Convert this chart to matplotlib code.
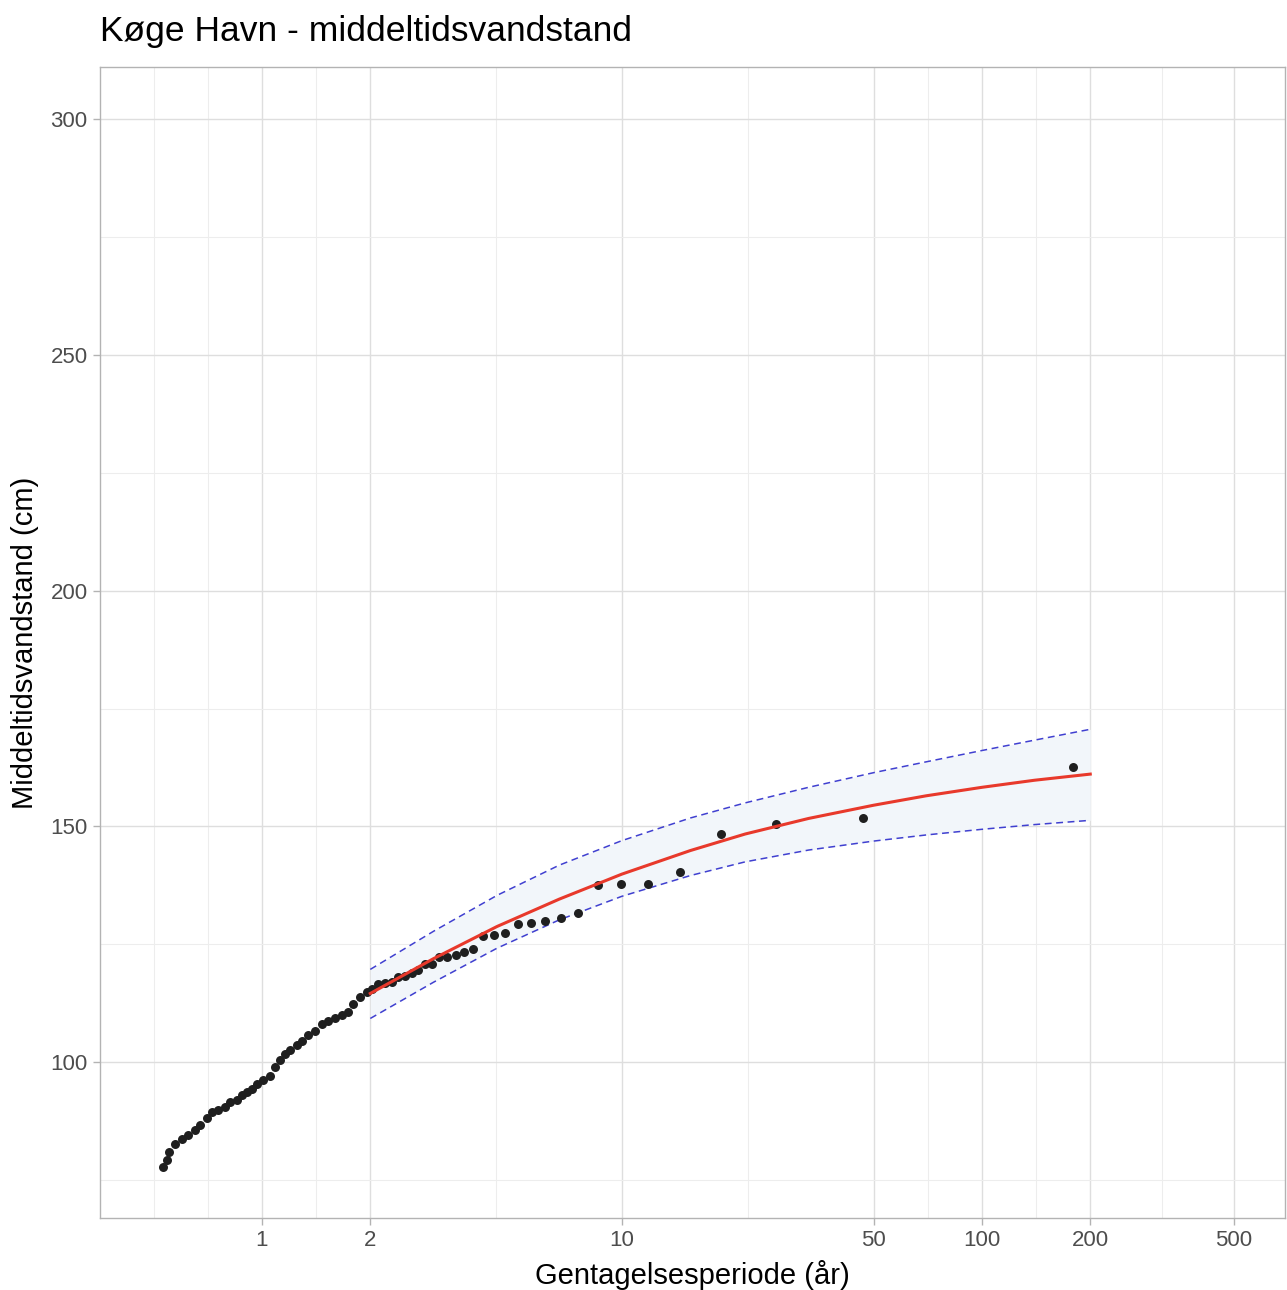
"""
Køge Havn - return period plot for mean water level (middeltidsvandstand).
"""

import matplotlib
matplotlib.use("Agg")
import matplotlib.pyplot as plt
from matplotlib.ticker import FixedLocator, NullFormatter

plt.rcParams['font.family'] = ['Liberation Sans', 'DejaVu Sans']

# -----------------------------------------------------------------------------
# observed events: return period (år) and water level (cm)
obs_T = [0.530, 0.544, 0.553, 0.573, 0.598, 0.624, 0.652, 0.673, 0.702, 0.725,
         0.756, 0.789, 0.815, 0.851, 0.878, 0.907, 0.936, 0.967, 1.008, 1.053,
         1.087, 1.122, 1.158, 1.196, 1.248, 1.289, 1.345, 1.403, 1.465, 1.528,
         1.595, 1.665, 1.736, 1.793, 1.872, 1.954, 2.017, 2.104, 2.197, 2.293,
         2.391, 2.496, 2.605, 2.718, 2.837, 2.961, 3.108, 3.271, 3.452, 3.647,
         3.863, 4.119, 4.411, 4.732, 5.133, 5.578, 6.110, 6.755, 7.548, 8.577,
         9.937, 11.79, 14.49, 18.84, 26.78, 46.70, 179.3]
obs_level = [77.8, 79.2, 81.0, 82.6, 83.8, 84.5, 85.6, 86.7, 88.1, 89.5,
             90.0, 90.5, 91.6, 92.1, 93.0, 93.7, 94.4, 95.5, 96.3, 97.2,
             99.0, 100.4, 101.8, 102.7, 103.6, 104.5, 105.9, 106.6, 108.2, 108.8,
             109.3, 110.0, 110.7, 112.4, 113.8, 114.9, 115.6, 116.7, 116.8, 117.0,
             118.1, 118.4, 118.9, 119.6, 120.8, 120.9, 122.3, 122.3, 122.8, 123.4,
             124.1, 126.8, 126.9, 127.5, 129.3, 129.5, 129.9, 130.5, 131.6, 137.5,
             137.7, 137.9, 140.3, 148.3, 150.6, 151.9, 162.6]

# fitted return level curve with confidence band
fit_T = [2, 3, 4.5, 6.7, 10, 15.5, 22, 33, 50, 70, 100, 140, 200]
fit_level = [114.6, 122.0, 128.8, 134.6, 139.9, 144.9, 148.4, 151.7, 154.5,
             156.5, 158.3, 159.8, 161.1]
fit_upper = [119.7, 127.8, 135.4, 141.8, 147.0, 151.8, 155.0, 158.3, 161.4,
             163.7, 166.1, 168.3, 170.6]
fit_lower = [109.3, 117.0, 124.2, 130.2, 135.2, 139.6, 142.5, 145.0, 146.9,
             148.2, 149.4, 150.4, 151.3]

x_breaks = [1, 2, 10, 50, 100, 200, 500]
x_minor = [0.5, 0.7071, 1.4142, 4.4721, 22.36, 70.71, 141.42, 316.23]
y_breaks = [100, 150, 200, 250, 300]
y_minor = [75, 125, 175, 225, 275]

# -----------------------------------------------------------------------------

fig = plt.figure(figsize=(12.87, 12.90), dpi=100)
ax = fig.add_axes([100 / 1287, 1 - 1218 / 1290, 1185 / 1287, 1151 / 1290])

ax.fill_between(fit_T, fit_lower, fit_upper, color='#F2F6FA', lw=0, zorder=1)
ax.plot(fit_T, fit_upper, '--', color='#4040D0', lw=1.1, dashes=(4.5, 3), zorder=2)
ax.plot(fit_T, fit_lower, '--', color='#4040D0', lw=1.1, dashes=(4.5, 3), zorder=2)
ax.scatter(obs_T, obs_level, s=42, color='#1f1f1f', lw=0, zorder=3)
ax.plot(fit_T, fit_level, color='#E8392B', lw=2.2, zorder=4)

ax.set_xscale('log')
ax.set_xlim(0.355, 695)
ax.set_ylim(67, 311)

ax.xaxis.set_major_locator(FixedLocator(x_breaks))
ax.set_xticklabels([str(b) for b in x_breaks])
ax.xaxis.set_minor_locator(FixedLocator(x_minor))
ax.xaxis.set_minor_formatter(NullFormatter())
ax.yaxis.set_major_locator(FixedLocator(y_breaks))
ax.yaxis.set_minor_locator(FixedLocator(y_minor))

ax.grid(which='major', color='#DEDEDE', lw=1.0, zorder=0)
ax.grid(which='minor', color='#EDEDED', lw=0.8, zorder=0)
ax.set_axisbelow(True)
for sp in ax.spines.values():
    sp.set_color('#B3B3B3')
    sp.set_linewidth(1.0)
ax.tick_params(which='major', length=5, width=1, color='#B3B3B3',
               labelcolor='#4D4D4D', labelsize=16, pad=4)
ax.tick_params(which='minor', length=0)

ax.set_xlabel('Gentagelsesperiode (år)', fontsize=21, color='black', labelpad=6)
ax.set_ylabel('Middeltidsvandstand (cm)', fontsize=21, color='black', labelpad=8)
fig.text(100 / 1287, 1 - 31 / 1290, 'Køge Havn - middeltidsvandstand',
         fontsize=25.5, ha='left', va='center')

fig.savefig('out.png', dpi=100)
